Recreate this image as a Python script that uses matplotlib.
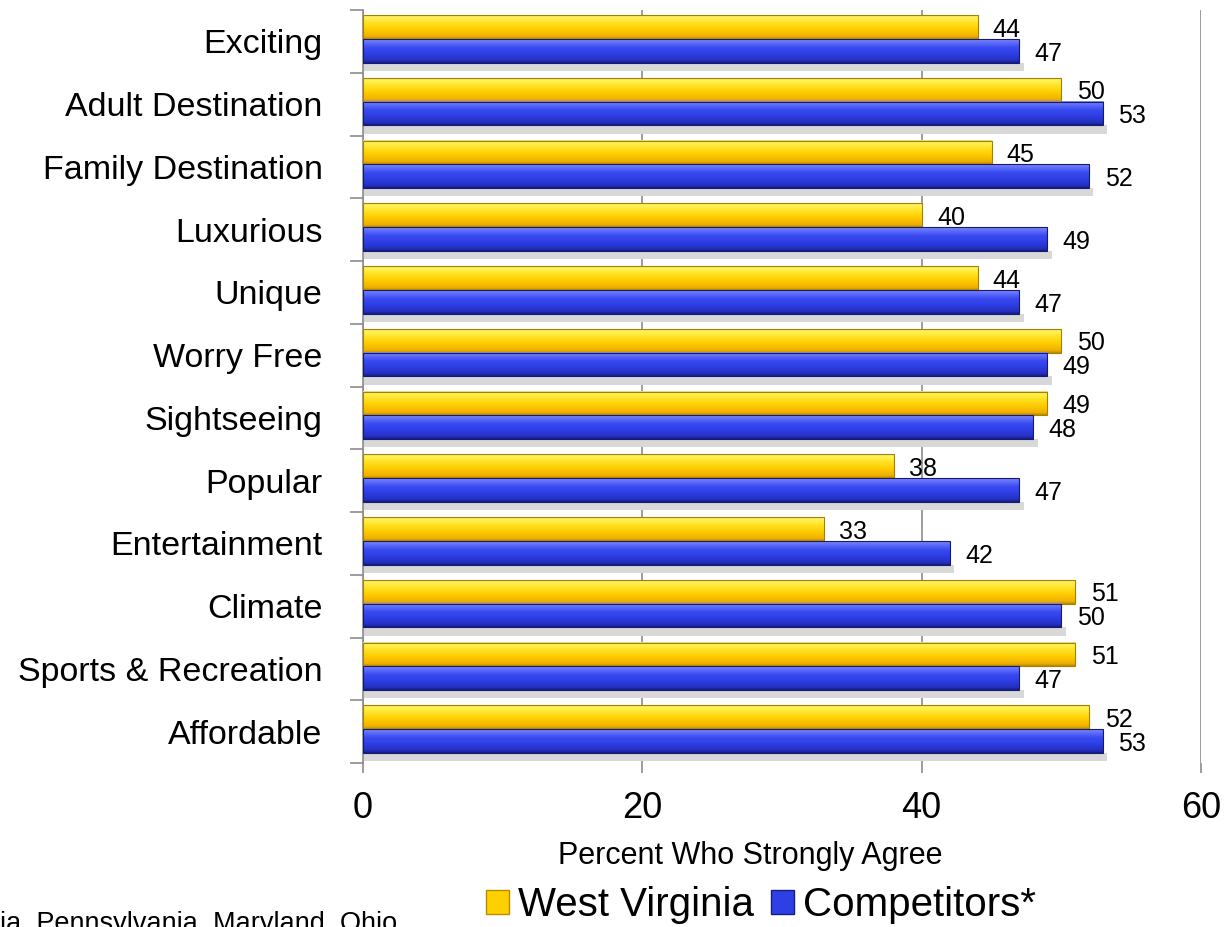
import matplotlib
matplotlib.use('Agg')
import numpy as np
import matplotlib.pyplot as plt
from matplotlib import font_manager
from matplotlib.colors import LinearSegmentedColormap
from matplotlib.patches import Rectangle, Patch

categories = ["Exciting", "Adult Destination", "Family Destination", "Luxurious", "Unique",
              "Worry Free", "Sightseeing", "Popular", "Entertainment", "Climate",
              "Sports & Recreation", "Affordable"]
west_virginia = [44, 50, 45, 40, 44, 50, 49, 38, 33, 51, 51, 52]
competitors = [47, 53, 52, 49, 47, 49, 48, 47, 42, 50, 47, 53]
series_names = ["West Virginia", "Competitors*"]
x_ticks = [0, 20, 40, 60]
footnote = "ia, Pennsylvania, Maryland, Ohio"

# gradient stops top -> bottom, a bit like the office "3D" bars
yellow_cm = LinearSegmentedColormap.from_list(
    "wv", [(0, "#e8d890"), (0.08, "#fff45a"), (0.35, "#ffe020"), (0.6, "#ffcc00"),
           (0.9, "#f0b000"), (1, "#b88a00")])
blue_cm = LinearSegmentedColormap.from_list(
    "comp", [(0, "#8890e0"), (0.08, "#6a78ff"), (0.35, "#3a4cf0"), (0.6, "#2e3fe6"),
             (0.9, "#2430c0"), (1, "#161c80")])

# no Arial Narrow here, so fall back to plain Liberation Sans a bit smaller
names = {f.name for f in font_manager.fontManager.ttflist}
if 'Liberation Sans Narrow' in names:
    narrow, cat_size, tick_size = 'Liberation Sans Narrow', 29, 28
else:
    narrow, cat_size, tick_size = 'Liberation Sans', 24.5, 26
plt.rcParams['font.family'] = ['Liberation Sans', 'DejaVu Sans']

W, H = 1227, 927
bar_h = 0.38
grid_col = "#8c8c8c"


def draw_bar(ax, y_top, value, cmap, edge):
    grad = np.linspace(0, 1, 64).reshape(-1, 1)
    ax.imshow(grad, cmap=cmap, extent=(0, value, y_top + bar_h, y_top), origin='upper',
              aspect='auto', zorder=3, interpolation='bilinear')
    ax.add_patch(Rectangle((0, y_top), value, bar_h, facecolor='none', edgecolor=edge,
                           linewidth=0.8, zorder=4))


def main():
    fig = plt.figure(figsize=(W / 100, H / 100), dpi=100)
    ax = fig.add_axes([363 / W, 1 - 763 / H, (1201 - 363) / W, (763 - 10) / H])

    y = np.arange(len(categories))
    for i in range(len(categories)):
        # shadow under the pair
        ax.add_patch(Rectangle((0, y[i] + bar_h - 0.04), competitors[i] + 0.3, 0.13,
                               facecolor="#d8d8d8", edgecolor='none', zorder=2))
        draw_bar(ax, y[i] - bar_h - 0.04, west_virginia[i], yellow_cm, "#a88000")
        draw_bar(ax, y[i] - 0.04, competitors[i], blue_cm, "#141a70")
        ax.annotate(str(west_virginia[i]), (west_virginia[i], y[i] - bar_h / 2 - 0.04),
                    xytext=(11, -2), textcoords='offset points', va='center', ha='left',
                    fontsize=18)
        ax.annotate(str(competitors[i]), (competitors[i], y[i] + bar_h / 2 - 0.04),
                    xytext=(11, -2), textcoords='offset points', va='center', ha='left',
                    fontsize=18)

    ax.set_xlim(0, 60)
    ax.set_ylim(len(categories) - 0.5, -0.5)

    ax.set_yticks(y)
    ax.set_yticklabels(categories, family=narrow, fontsize=cat_size)
    ax.set_yticks(np.arange(len(categories) + 1) - 0.5, minor=True)
    ax.tick_params(axis='y', which='major', length=0, pad=29)
    ax.tick_params(axis='y', which='minor', length=9.4, color=grid_col, width=1.2)

    ax.set_xticks(x_ticks)
    ax.set_xticklabels([str(v) for v in x_ticks], family=narrow, fontsize=tick_size)
    ax.tick_params(axis='x', length=7, color=grid_col, width=1.2, pad=13)

    ax.grid(True, axis='x', color=grid_col, linewidth=1.2, zorder=0)
    ax.set_axisbelow(True)
    for s in ['top', 'right', 'bottom']:
        ax.spines[s].set_visible(False)
    ax.spines['left'].set_color(grid_col)
    ax.spines['left'].set_linewidth(1.2)

    fig.text(750 / W, 1 - 856 / H, "Percent Who Strongly Agree", ha='center', va='center',
             fontsize=22)

    handles = [Patch(facecolor="#ffd000", edgecolor="#b88a00"),
               Patch(facecolor="#2e3fe6", edgecolor="#161c80")]
    fig.legend(handles, series_names, loc='center', bbox_to_anchor=(761 / W, 1 - 905 / H),
               ncol=2, frameon=False, fontsize=29, handlelength=0.57, handleheight=0.55,
               handletextpad=0.22, columnspacing=0.42, borderpad=0, borderaxespad=0)

    fig.text(0, 1 - 931 / H, footnote, ha='left', va='baseline', fontsize=19.5)

    fig.savefig("out.png", dpi=100)


if __name__ == "__main__":
    main()
